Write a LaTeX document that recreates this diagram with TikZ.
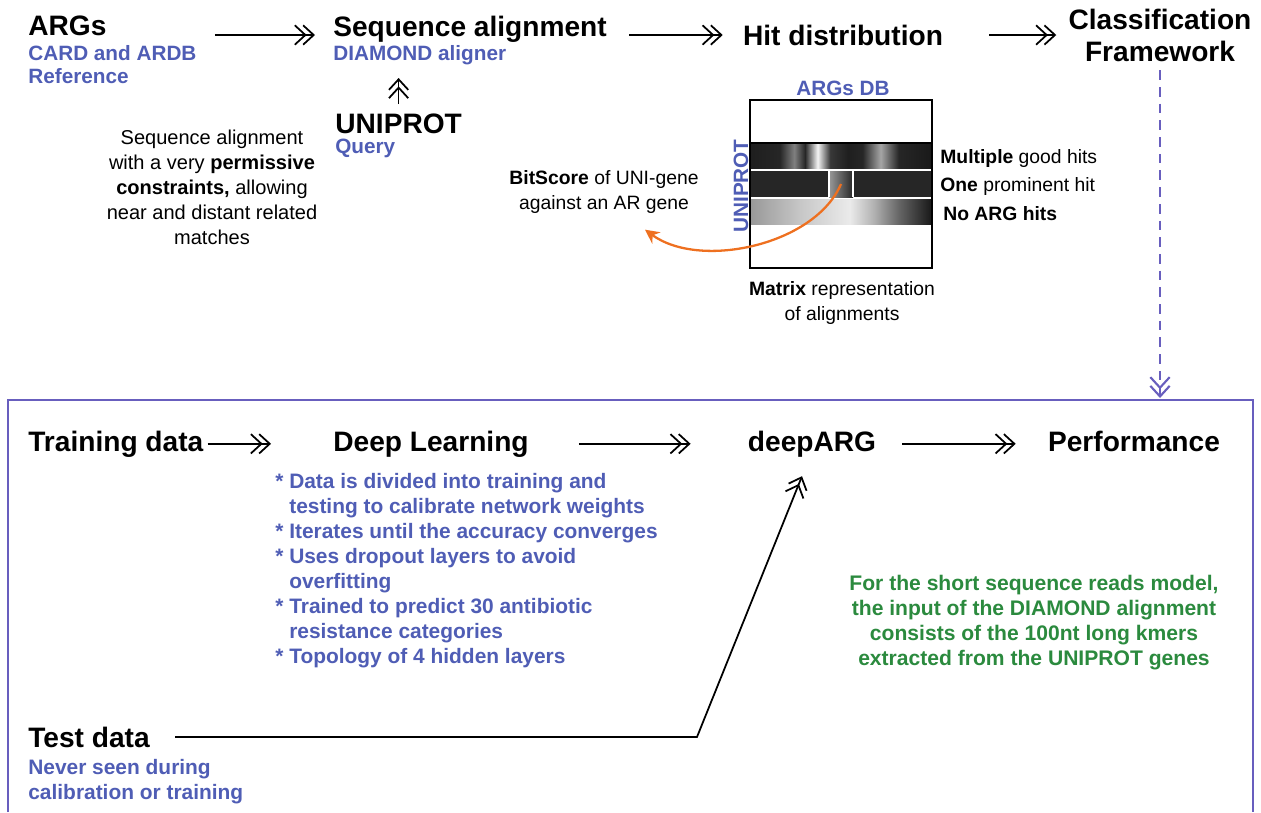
\documentclass[tikz,border=0pt]{standalone}
\usepackage{fontspec}
\setmainfont{Liberation Sans}
\usetikzlibrary{arrows.meta,calc}

\definecolor{argblue}{RGB}{79,93,181}
\definecolor{noteGreen}{RGB}{43,138,62}
\definecolor{hitOrange}{RGB}{238,112,32}
\definecolor{framePurple}{RGB}{104,94,190}

\pgfdeclarehorizontalshading{rowone}{100bp}{color(0bp)=(black!88); color(25bp)=(black!88); color(33bp)=(black!85); color(37bp)=(black!50); color(40bp)=(black!85); color(43.5bp)=(black!4); color(47bp)=(black!78); color(52bp)=(black!88); color(56bp)=(black!85); color(61bp)=(black!35); color(66bp)=(black!85); color(75bp)=(black!90); color(100bp)=(black!90)}
\pgfdeclarehorizontalshading{rowthree}{100bp}{color(0bp)=(black!40); color(25bp)=(black!40); color(38.7bp)=(black!22); color(52.4bp)=(black!8); color(59bp)=(black!30); color(66bp)=(black!60); color(75bp)=(black!90); color(100bp)=(black!90)}

\tikzset{
  head/.style={font=\fontsize{16}{18.2}\selectfont\bfseries, inner sep=0pt},
  sub/.style={font=\fontsize{11.8}{12.8}\selectfont\bfseries, text=argblue, inner sep=0pt, align=left},
  note/.style={font=\fontsize{11.4}{14.2}\selectfont, inner sep=0pt, align=center},
  blist/.style={inner sep=0pt, align=left, text=argblue, font=\fontsize{11.9}{14.2}\selectfont\bfseries},
  dbl/.style={line width=1pt, -{Straight Barb[length=6pt,width=11pt,sep=-2.5pt] Straight Barb[length=6pt,width=11pt]}},
}

\begin{document}
\begin{tikzpicture}[x=0.02cm, y=-0.02cm]
  \useasboundingbox (0,0) rectangle (1261,812);
  % 上段: 参照と配列アラインメント
  \node[head, anchor=base west] (args) at (28,35) {ARGs};
  \node[sub, anchor=north west] (card) at (28,45.5) {CARD and ARDB\\Reference};
  \node[head, anchor=base west] (seqal) at (333,36) {Sequence alignment};
  \node[sub, anchor=base west] (diamond) at (333,60) {DIAMOND aligner};
  \node[head, anchor=base west] (uniprot) at (335,133) {UNIPROT};
  \node[sub, anchor=base west] (query) at (335,153) {Query};
  \node[note, anchor=north] (permis) at (212,130) {Sequence alignment\\with a very \textbf{permissive}\\\textbf{constraints,} allowing\\near and distant related\\matches};
  \node[head, anchor=base] (hitd) at (843,45) {Hit distribution};
  \node[head, anchor=north, align=center] (classf) at (1160,9) {Classification\\Framework};

  \draw[dbl] ($(card.east |- args.base)+(18,0)$) -- ($(seqal.west |- args.base)+(-18,0)$);
  \draw[dbl] ($(seqal.east |- args.base)+(22,0)$) -- ($(hitd.west |- args.base)+(-20,0)$);
  \draw[dbl] ($(hitd.east |- args.base)+(46,0)$) -- ($(classf.west |- args.base)+(-12,0)$);
  \draw[dbl] ($(uniprot.north)+(0,-9)$) -- ($(uniprot.north |- diamond.base)+(0,18)$);

  % 行列表現
  \node[sub, anchor=base] (argsdb) at (843,95) {ARGs DB};
  \node[sub, rotate=90] (uniax) at (741,186) {UNIPROT};
  \shade[shading=rowone] (751,143) rectangle (931,168);
  \fill[black!85] (751,171) rectangle (931,197);
  \shade[left color=black!40, right color=black!85] (829,171) rectangle (853,197);
  \draw[white, line width=1.2pt] (829,171) -- (829,197) (853,171) -- (853,197);
  \shade[shading=rowthree] (751,199) rectangle (931,224);
  \draw[line width=1pt] (750,143) -- (932,143);
  \draw[line width=1.1pt] (750,100) rectangle (932,268);
  \foreach \i/\y/\x/\lab in {1/158/940/{\textbf{Multiple} good hits}, 2/186/940/{\textbf{One} prominent hit}, 3/214/943/{\textbf{No ARG hits}}} {
    \node[note, font=\fontsize{11}{14.2}\selectfont, anchor=west] (hit\i) at (\x,\y) {\lab};
  }
  \node[note, font=\fontsize{11}{14.2}\selectfont, anchor=north] (matcap) at (842,281) {\textbf{Matrix} representation\\of alignments};
  \node[note, font=\fontsize{11}{14.2}\selectfont, anchor=north] (bits) at (604,170) {\textbf{BitScore} of UNI-gene\\against an AR gene};
  \coordinate (hitpt) at (841,184);
  \draw[hitOrange, line width=1.3pt, -{Stealth[length=8pt,width=8pt]}] (hitpt) .. controls (815,245) and (700,270) .. ($(bits.south)+(41,16)$);

  % 下段: 学習の枠
  \coordinate (frametop) at (1160,398);
  \draw[framePurple, line width=1.2pt] (8,812) -- (8,400) -- (1253,400) -- (1253,812);
  \draw[framePurple, line width=1.2pt, dash pattern=on 5.5pt off 4pt, -{Straight Barb[length=6pt,width=11pt,sep=-2.5pt] Straight Barb[length=6pt,width=11pt]}] ($(classf.south)+(0,8)$) -- (frametop);

  \node[head, anchor=base west] (train) at (28,451) {Training data};
  \node[head, anchor=base] (deeplearn) at (431,451) {Deep Learning};
  \node[head, anchor=base] (deeparg) at (812,451) {deepARG};
  \node[head, anchor=base] (perf) at (1134,451) {Performance};
  \node[blist, anchor=north west] (bullets) at (275,473) {%
    * Data is divided into training and\\\hphantom{* }testing to calibrate network weights\\
    * Iterates until the accuracy converges\\
    * Uses dropout layers to avoid\\\hphantom{* }overfitting\\
    * Trained to predict 30 antibiotic\\\hphantom{* }resistance categories\\
    * Topology of 4 hidden layers};
  \node[head, anchor=base west] (testd) at (28,747) {Test data};
  \node[blist, anchor=north west] (never) at (28,759) {Never seen during\\calibration or training};
  \node[inner sep=0pt, anchor=north, align=center, text=noteGreen, font=\fontsize{12}{14.2}\selectfont\bfseries] (green) at (1034,575) {For the short sequence reads model,\\the input of the DIAMOND alignment\\consists of the 100nt long kmers\\extracted from the UNIPROT genes};

  \draw[dbl] ($(train.east)+(4,0)$) -- ($(deeplearn.west |- train.east)+(-62,0)$);
  \draw[dbl] ($(deeplearn.east |- train.east)+(50,0)$) -- ($(deeparg.west |- train.east)+(-57,0)$);
  \draw[dbl] ($(deeparg.east |- train.east)+(26,0)$) -- ($(perf.west |- train.east)+(-32,0)$);
  \coordinate (bend) at (697,741);
  \draw[dbl] ($(testd.east)+(25,0)$) -- (bend |- testd.east) -- ($(deeparg.south)+(-10,19)$);
\end{tikzpicture}
\end{document}
